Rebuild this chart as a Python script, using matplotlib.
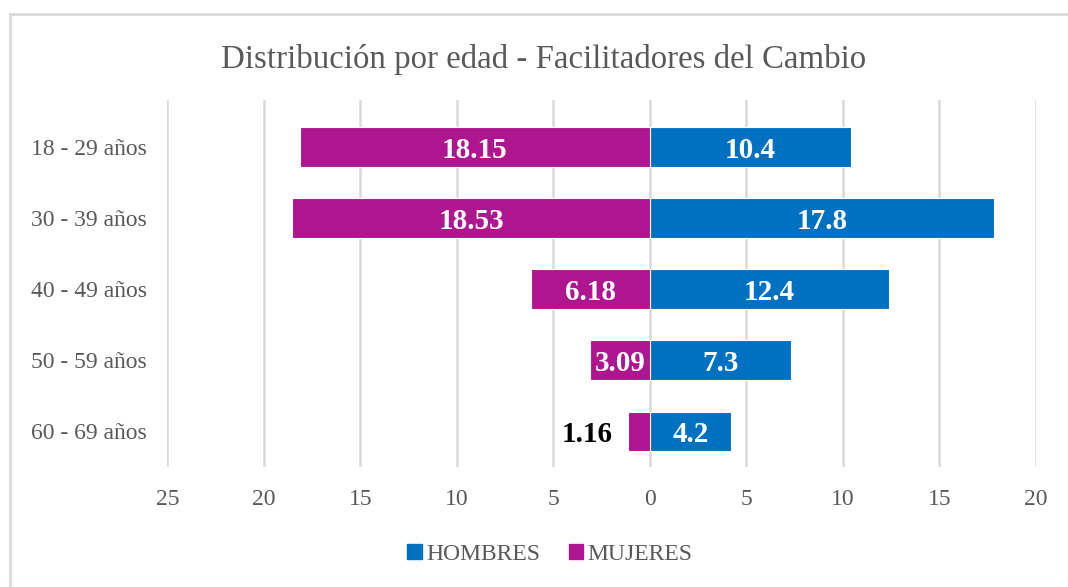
import matplotlib.pyplot as plt
from matplotlib.patches import Rectangle, Patch

# data
categorias = ["18 - 29 años", "30 - 39 años", "40 - 49 años", "50 - 59 años", "60 - 69 años"]
hombres = [10.4, 17.8, 12.4, 7.3, 4.2]
mujeres = [18.15, 18.53, 6.18, 3.09, 1.16]
ticks = [-25, -20, -15, -10, -5, 0, 5, 10, 15, 20]

azul = "#0070C0"
magenta = "#AE1690"
gris = "#595959"

plt.rcParams['font.family'] = ['Liberation Serif', 'DejaVu Serif']

fig = plt.figure(figsize=(10.68, 5.87), dpi=100)
ax = fig.add_axes([0.1568, 0.2044, 0.8132, 0.6252])

# borde del area del grafico
fig.patches.append(Rectangle((10 / 1068, -0.1), 1.2, 1 - 14 / 587 + 0.1,
                             transform=fig.transFigure, fill=False,
                             edgecolor="#D9D9D9", linewidth=2))

y = list(range(len(categorias)))
neg = [-v for v in mujeres]
ax.barh(y, hombres, height=0.56, color=azul, edgecolor="white", linewidth=0.8, zorder=3)
ax.barh(y, neg, height=0.56, color=magenta, edgecolor="white", linewidth=0.8, zorder=3)

dy = 0.045  # bajar un poco las etiquetas
for i, v in enumerate(hombres):
    ax.text(v / 2, i + dy, f"{v:g}", ha="center", va="center", color="white",
            fontsize=21, fontweight="bold", zorder=4)
for i, v in enumerate(mujeres):
    if v < 2:
        ax.text(-v - 0.8, i + dy, f"{v:.2f}", ha="right", va="center", color="black",
                fontsize=21, fontweight="bold", zorder=4)
    else:
        ax.text(-v / 2, i + dy, f"{v:.2f}", ha="center", va="center", color="white",
                fontsize=21, fontweight="bold", zorder=4)

ax.set_xlim(-25, 20)
ax.set_ylim(4.5, -0.66)
ax.set_xticks(ticks)
ax.set_xticklabels([str(abs(t)) for t in ticks])
ax.set_yticks(y)
ax.set_yticklabels(categorias)
ax.tick_params(axis="both", length=0, colors=gris, labelsize=17)
ax.tick_params(axis="x", pad=16)
ax.tick_params(axis="y", pad=15)
ax.grid(axis="x", color="#D9D9D9", linewidth=1.8, zorder=0)
for s in ax.spines.values():
    s.set_visible(False)

fig.text(0.509, 0.899, "Distribución por edad - Facilitadores del Cambio",
         ha="center", va="center", fontsize=23.7, color=gris)

handles = [Patch(color=azul), Patch(color=magenta)]
fig.legend(handles, ["HOMBRES", "MUJERES"], loc="center", bbox_to_anchor=(0.515, 0.056),
           ncol=2, frameon=False, fontsize=17, labelcolor=gris,
           handlelength=0.6, handleheight=0.6, handletextpad=0.2, columnspacing=1.2)

fig.savefig("out.png", dpi=100)
